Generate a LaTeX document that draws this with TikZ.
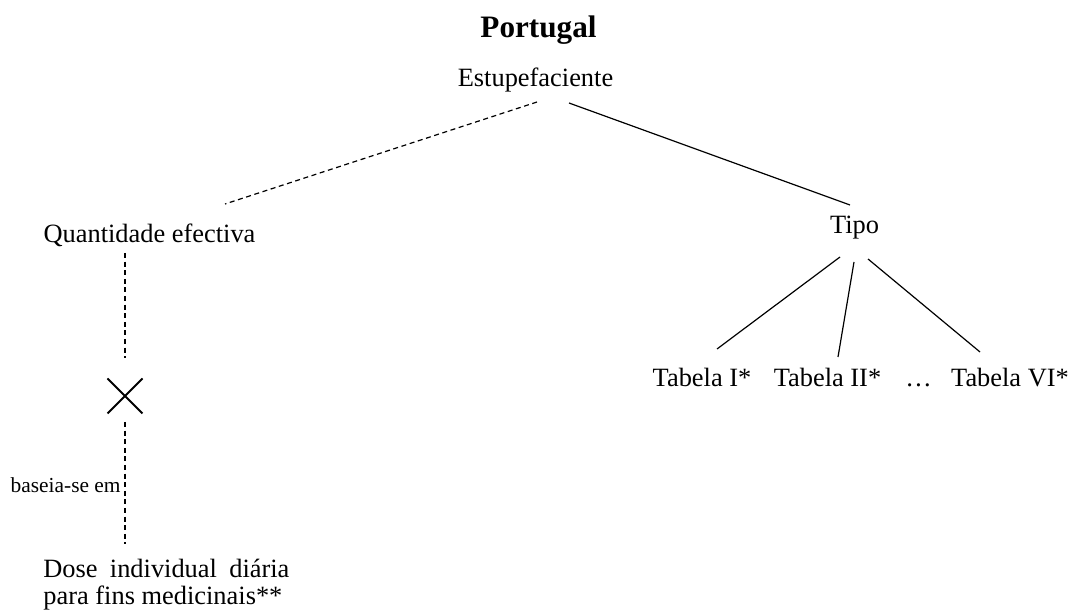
\documentclass[tikz,border=0pt]{standalone}
\usepackage{fontspec}
\setmainfont{Liberation Serif}
\usetikzlibrary{calc,shapes.misc}
\begin{document}
\begin{tikzpicture}[x=0.5pt,y=-0.5pt,
  lbl/.style={inner sep=0pt,anchor=base,font=\fontsize{13.2}{13.5}\selectfont},
  ttl/.style={inner sep=0pt,anchor=base,font=\fontsize{15.6}{16}\selectfont\bfseries},
  small/.style={inner sep=0pt,anchor=base east,font=\fontsize{10.7}{11}\selectfont},
  edge/.style={line width=0.6pt},
  dashedge/.style={line width=0.6pt,dash pattern=on 2.5pt off 1.8pt}]
\useasboundingbox (0,0) rectangle (1075,613);

% title and root
\node[ttl] (title) at (538.5,38) {Portugal};
\node[lbl] (estu) at (535.5,87) {Estupefaciente};

% first level
\node[lbl] (qe) at (149.5,243) {Quantidade efectiva};
\node[lbl] (tipo) at (854.5,234) {Tipo};

% tables
\node[lbl] (t1) at (702,387) {Tabela I*};
\node[lbl] (t2) at (827.5,387) {Tabela II*};
\node[lbl] (tdots) at (918.5,387) {…};
\node[lbl] (t6) at (1010,387) {Tabela VI*};

% crossing mark and base quantity
\node[cross out,draw,line width=1pt,minimum size=16.5pt,inner sep=0pt] (cross) at (125,396) {};
\node[inner sep=0pt,anchor=north west,text width=123pt,align=justify,
      font=\fontsize{13.2}{13.5}\selectfont] (dose) at (43,559)
      {Dose individual diária para fins medicinais**};
\node[small] (based) at (121,493) {baseia-se em};

% connectors
\draw[dashedge] ($(estu.base)+(1.5,15)$) -- ($(qe.base)+(75.5,-39)$);
\draw[edge] ($(estu.base)+(33.5,16)$) -- ($(tipo.base)+(-4.5,-29)$);
\draw[edge] ($(tipo.base)+(-14.5,23)$) -- ($(t1.base)+(15,-38)$);
\draw[edge] ($(tipo.base)+(-0.5,28)$) -- ($(t2.base)+(10.5,-30)$);
\draw[edge] ($(tipo.base)+(13.5,25)$) -- ($(t6.base)+(-30,-35)$);
\draw[dashedge] ($(qe.base)+(-24.5,10)$) -- ($(cross.center)+(0,-38)$);
\draw[dashedge] ($(cross.center)+(0,26)$) -- ($(cross.center)+(0,148)$);
\end{tikzpicture}
\end{document}
